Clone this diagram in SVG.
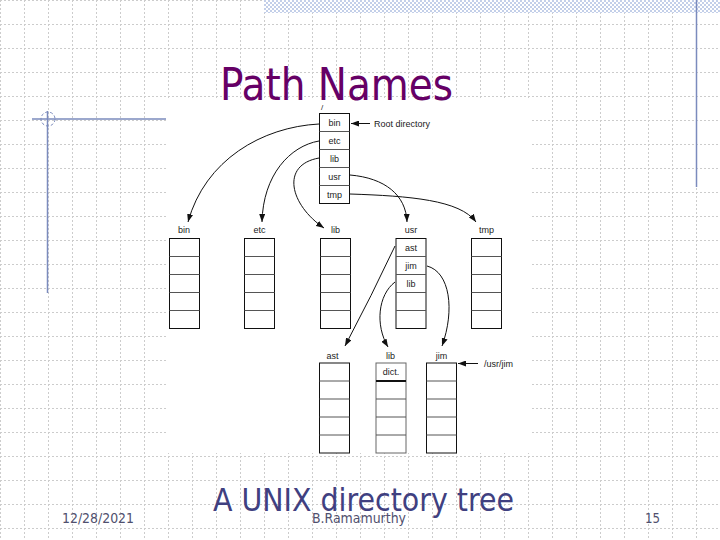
<svg xmlns="http://www.w3.org/2000/svg" width="720" height="540" viewBox="0 0 720 540">
<defs>
<pattern id="grid" x="0" y="0" width="24" height="24" patternUnits="userSpaceOnUse">
<path d="M0,0.5 H24 M0.5,0 V24" stroke="#cccccc" stroke-width="1" stroke-dasharray="2 2" fill="none"/>
</pattern>
<pattern id="check" x="0" y="0" width="4" height="4" patternUnits="userSpaceOnUse">
<rect width="4" height="4" fill="#ffffff"/>
<rect width="2" height="2" fill="#c3cfe9"/>
<rect x="2" y="2" width="2" height="2" fill="#c3cfe9"/>
</pattern>
<marker id="ah" markerUnits="userSpaceOnUse" markerWidth="8" markerHeight="6" refX="8" refY="3" orient="auto">
<path d="M0,0 L8,3 L0,6 z" fill="#111"/>
</marker>
</defs>
<style>
.box{fill:#fff;stroke:#111;stroke-width:1}
.div{stroke:#555;stroke-width:1}
.lbl{font-family:"Liberation Sans",Arial,sans-serif;font-size:9px;fill:#1a1a1a;text-anchor:middle}
.note{font-family:"Liberation Sans",Arial,sans-serif;font-size:9px;fill:#1a1a1a}
.con{fill:none;stroke:#111;stroke-width:1;marker-end:url(#ah)}
.deco{stroke:#7b8bbd;stroke-width:1.5;fill:none}
.foot{font-family:"DejaVu Sans Condensed","DejaVu Sans",sans-serif;font-stretch:condensed;font-size:14px;fill:#50506e}
</style>

<g id="background">
<rect width="720" height="540" fill="#ffffff"/>
<rect width="720" height="540" fill="url(#grid)"/>
<rect x="264" y="0" width="456" height="13" fill="url(#check)"/>
<line class="deco" x1="696.5" y1="0" x2="696.5" y2="187"/>
<line class="deco" x1="32" y1="119" x2="168" y2="119"/>
<line class="deco" x1="47.5" y1="111" x2="47.5" y2="293"/>
<circle cx="48" cy="119" r="7" fill="none" stroke="#7b8bbd" stroke-width="1" stroke-dasharray="3 2"/>
<rect x="166" y="100" width="364" height="353" fill="#ffffff"/>
</g>

<text id="title" x="220" y="100" font-family="DejaVu Sans Condensed, DejaVu Sans, sans-serif" font-stretch="condensed" font-size="44" fill="#660066" textLength="233" lengthAdjust="spacingAndGlyphs">Path Names</text>

<g id="root">
<text class="note" x="321" y="110" style="font-size:8px">/</text>
<rect class="box" x="319.5" y="113.5" width="30" height="90"/>
<line class="div" x1="319.5" y1="131.5" x2="349.5" y2="131.5"/>
<line class="div" x1="319.5" y1="149.5" x2="349.5" y2="149.5"/>
<line class="div" x1="319.5" y1="167.5" x2="349.5" y2="167.5"/>
<line class="div" x1="319.5" y1="185.5" x2="349.5" y2="185.5"/>
<text class="lbl" x="334.5" y="125.5">bin</text>
<text class="lbl" x="334.5" y="143.5">etc</text>
<text class="lbl" x="334.5" y="161.5">lib</text>
<text class="lbl" x="334.5" y="179.5">usr</text>
<text class="lbl" x="334.5" y="197.5">tmp</text>
<text class="note" x="374" y="126.5">Root directory</text>
</g>

<g id="dir-bin">
<text class="lbl" x="184" y="233">bin</text>
<rect class="box" x="169.5" y="238.5" width="30" height="90"/>
<path class="div" d="M169.5,256.5 H199.5 M169.5,274.5 H199.5 M169.5,292.5 H199.5 M169.5,310.5 H199.5"/>
</g>

<g id="dir-etc">
<text class="lbl" x="259.5" y="233">etc</text>
<rect class="box" x="244.5" y="238.5" width="30" height="90"/>
<path class="div" d="M244.5,256.5 H274.5 M244.5,274.5 H274.5 M244.5,292.5 H274.5 M244.5,310.5 H274.5"/>
</g>

<g id="dir-lib">
<text class="lbl" x="335.5" y="233">lib</text>
<rect class="box" x="320.5" y="238.5" width="30" height="90"/>
<path class="div" d="M320.5,256.5 H350.5 M320.5,274.5 H350.5 M320.5,292.5 H350.5 M320.5,310.5 H350.5"/>
</g>

<g id="dir-usr">
<text class="lbl" x="411" y="233">usr</text>
<rect class="box" x="396" y="238.5" width="30" height="90"/>
<path class="div" d="M396,256.5 H426 M396,274.5 H426 M396,292.5 H426 M396,310.5 H426"/>
<text class="lbl" x="411" y="250.5">ast</text>
<text class="lbl" x="411" y="268.5">jim</text>
<text class="lbl" x="411" y="286.5">lib</text>
</g>

<g id="dir-tmp">
<text class="lbl" x="486.5" y="233">tmp</text>
<rect class="box" x="471.5" y="238.5" width="30" height="90"/>
<path class="div" d="M471.5,256.5 H501.5 M471.5,274.5 H501.5 M471.5,292.5 H501.5 M471.5,310.5 H501.5"/>
</g>

<g id="dir-usr-ast">
<text class="lbl" x="332.5" y="359">ast</text>
<rect class="box" x="319.5" y="363" width="30" height="90"/>
<path class="div" d="M319.5,381 H349.5 M319.5,399 H349.5 M319.5,417 H349.5 M319.5,435 H349.5"/>
</g>

<g id="dir-usr-lib">
<text class="lbl" x="390.5" y="359">lib</text>
<rect class="box" x="376" y="363" width="30" height="90" style="stroke:#666"/>
<line x1="376" y1="381" x2="406" y2="381" stroke="#111" stroke-width="2"/>
<path class="div" d="M376,399 H406 M376,417 H406 M376,435 H406"/>
<text class="lbl" x="391" y="375">dict.</text>
</g>

<g id="dir-usr-jim">
<text class="lbl" x="441.5" y="359">jim</text>
<rect class="box" x="426.5" y="363" width="30" height="90"/>
<path class="div" d="M426.5,381 H456.5 M426.5,399 H456.5 M426.5,417 H456.5 M426.5,435 H456.5"/>
<text class="note" x="484" y="366.5">/usr/jim</text>
</g>

<g id="connectors">
<line class="con" x1="370" y1="123.5" x2="351" y2="123.5"/>
<path class="con" d="M319,124 C262,127 205,160 188,222"/>
<path class="con" d="M319,141 C290,146 263,175 262,222"/>
<path class="con" d="M319,158 C280,165 290,205 324,228"/>
<path class="con" d="M350,175 C385,178 406,195 407,222"/>
<path class="con" d="M350,194 C410,196 460,200 476,222"/>
<path class="con" d="M395,246 Q372,295 345,346"/>
<path class="con" d="M395,282 C378,295 375,325 388,347"/>
<path class="con" d="M427,266 C450,272 455,310 442,346"/>
<line class="con" x1="478" y1="363.5" x2="458" y2="363.5"/>
</g>

<text id="caption" x="213" y="511" font-family="DejaVu Sans Condensed, DejaVu Sans, sans-serif" font-stretch="condensed" font-size="32" fill="#404080" textLength="301" lengthAdjust="spacingAndGlyphs">A UNIX directory tree</text>

<g id="footer">
<text class="foot" x="62" y="523" textLength="72" lengthAdjust="spacingAndGlyphs">12/28/2021</text>
<text class="foot" x="312" y="523" textLength="94" lengthAdjust="spacingAndGlyphs">B.Ramamurthy</text>
<text class="foot" x="645" y="523" textLength="15" lengthAdjust="spacingAndGlyphs">15</text>
</g>
</svg>
